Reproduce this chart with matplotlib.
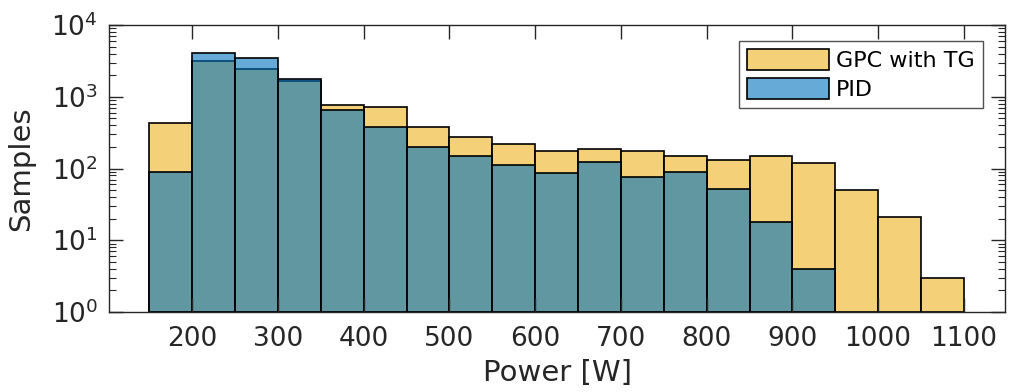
import numpy as np
import matplotlib
matplotlib.use("Agg")
import matplotlib.pyplot as plt
from matplotlib.ticker import LogLocator, FixedLocator

# Histogram bin edges (W) and per-bin sample counts
bin_edges = [150, 200, 250, 300, 350, 400, 450, 500, 550, 600, 650,
             700, 750, 800, 850, 900, 950, 1000, 1050, 1100]
gpc_counts = [427, 3180, 2460, 1657, 775, 713, 379, 277, 219, 177,
              185, 174, 149, 131, 151, 120, 50, 21, 3]
pid_counts = [90, 4035, 3500, 1750, 660, 375, 201, 148, 111, 86,
              124, 76, 88, 51, 18, 4, 0, 0, 0]
x_ticks = [200, 300, 400, 500, 600, 700, 800, 900, 1000, 1100]
series_names = ["GPC with TG", "PID"]

yellow = (0.929, 0.694, 0.125, 0.6)
blue = (0.0, 0.447, 0.741, 0.6)
axis_gray = (0.15, 0.15, 0.15)

plt.rcParams["font.family"] = ["DejaVu Sans"]
plt.rcParams["mathtext.fontset"] = "dejavusans"

fig = plt.figure(figsize=(10.2, 3.92), dpi=100)
ax = fig.add_axes([0.1069, 0.2041, 0.8784, 0.7321])

edges = np.array(bin_edges, dtype=float)
lefts = edges[:-1]
widths = np.diff(edges)
base = 1.0  # bottom of the log axis


def draw_hist(counts, color, label):
    counts = np.asarray(counts, dtype=float)
    keep = counts > 0
    ax.bar(lefts[keep], counts[keep] - base, width=widths[keep], align="edge",
           bottom=base, facecolor=color, edgecolor="black", linewidth=1.2,
           label=label)


draw_hist(gpc_counts, yellow, series_names[0])
draw_hist(pid_counts, blue, series_names[1])

ax.set_yscale("log")
ax.set_ylim(1, 1e4)
ax.set_xlim(103, 1148)
ax.xaxis.set_major_locator(FixedLocator(x_ticks))
ax.set_xticklabels([str(t) for t in x_ticks])
ax.yaxis.set_major_locator(LogLocator(base=10, numticks=10))
ax.yaxis.set_minor_locator(LogLocator(base=10, subs=np.arange(2, 10), numticks=20))
ax.tick_params(axis="both", which="both", direction="in", top=True, right=True,
               colors=axis_gray, labelcolor=axis_gray)
ax.tick_params(axis="both", which="major", length=10, width=1.0, labelsize=19)
ax.tick_params(axis="x", which="major", pad=10)
ax.tick_params(axis="y", which="major", pad=8)
ax.tick_params(axis="y", which="minor", length=5, width=0.8)
ax.tick_params(axis="x", which="minor", bottom=False, top=False)
for s in ax.spines.values():
    s.set_color(axis_gray)
    s.set_linewidth(1.0)

ax.set_xlabel("Power [W]", fontsize=21, color=axis_gray, labelpad=5)
ax.set_ylabel("Samples", fontsize=21, color=axis_gray, labelpad=12)

leg = ax.legend(loc="upper right", fontsize=16, frameon=True, fancybox=False,
                edgecolor=axis_gray, handlelength=3.7, handleheight=1.1,
                borderpad=0.35, labelspacing=0.3, handletextpad=0.3,
                borderaxespad=0.0, bbox_to_anchor=(0.975, 0.944))
leg.get_frame().set_linewidth(1.0)

fig.savefig("out.png", dpi=100)
